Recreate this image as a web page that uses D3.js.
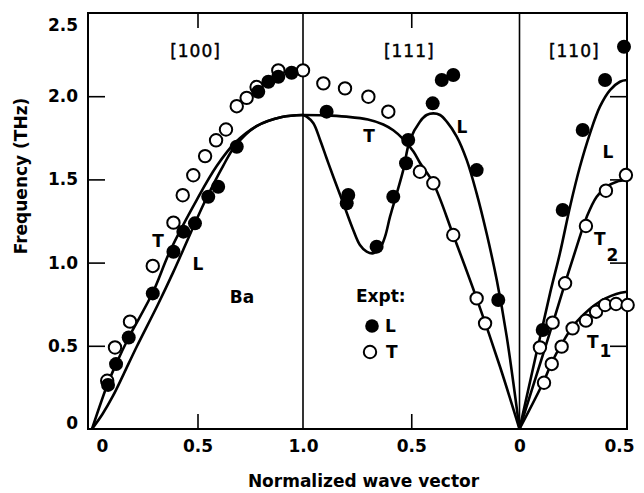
<!DOCTYPE html>
<html><head><meta charset="utf-8">
<script src="https://cdn.jsdelivr.net/npm/d3@7"></script>
<style>
html,body{margin:0;padding:0;background:#fff;}
svg text{font-family:"DejaVu Sans",sans-serif;font-weight:bold;font-size:17px;fill:#000;}
</style></head>
<body><svg id="c" width="644" height="493"></svg>
<script>
// ---------- data (q = normalized wave vector, v = frequency THz) ----------
const yTickVals = [0, 0.5, 1, 1.5, 2, 2.5];
const yTickLabels = ["0", "0.5", "1.0", "1.5", "2.0", "2.5"];
const sTickVals = [0, 0.5, 1, 1.5, 2, 2.5];
const xTickLabels = ["0", "0.5", "1.0", "0.5", "0", "0.5"];
const panelNames = ["[100]", "[111]", "[110]"];

// [100]
const curve100T = [[0,0],[0.074,0.27],[0.114,0.39],[0.174,0.55],[0.288,0.82],[0.37,1.07],[0.496,1.376],[0.591,1.58],[0.678,1.72],[0.78,1.82],[0.9,1.875],[1,1.887]];
const curve100L = [[0,0],[0.05,0.09],[0.1,0.2],[0.15,0.33],[0.21,0.49],[0.313,0.75],[0.384,0.94],[0.43,1.07],[0.536,1.37],[0.621,1.58],[0.678,1.7],[0.78,1.82],[0.9,1.875],[1,1.887]];
const open100 = [[0.072,0.29],[0.109,0.49],[0.18,0.645],[0.288,0.98],[0.386,1.24],[0.43,1.405],[0.48,1.525],[0.536,1.64],[0.588,1.735],[0.635,1.80],[0.686,1.94],[0.733,1.99],[0.78,2.055],[0.883,2.155],[1.0,2.155]];
const filled100 = [[0.076,0.265],[0.114,0.39],[0.174,0.55],[0.288,0.815],[0.386,1.065],[0.433,1.186],[0.488,1.236],[0.551,1.396],[0.598,1.456],[0.686,1.696],[0.788,2.027],[0.836,2.087],[0.883,2.117],[0.946,2.141]];

// [111]
const curve111T = [[1,1.887],[0.9,1.885],[0.8,1.877],[0.7,1.86],[0.629,1.83],[0.583,1.795],[0.537,1.742],[0.49,1.667],[0.46,1.6],[0.398,1.477],[0.306,1.166],[0.198,0.785],[0.09,0.374],[0,0]];
const curve111L = [[1,1.887],[0.983,1.877],[0.952,1.837],[0.921,1.737],[0.891,1.627],[0.86,1.516],[0.814,1.356],[0.768,1.196],[0.737,1.106],[0.706,1.066],[0.675,1.056],[0.644,1.086],[0.621,1.156],[0.598,1.276],[0.567,1.416],[0.537,1.556],[0.506,1.737],[0.46,1.847],[0.429,1.887],[0.398,1.897],[0.367,1.887],[0.336,1.847],[0.29,1.757],[0.244,1.617],[0.198,1.416],[0.152,1.176],[0.105,0.895],[0.059,0.555],[0,0]];
const open111 = [[0.906,2.077],[0.806,2.047],[0.698,1.997],[0.606,1.907],[0.46,1.546],[0.398,1.477],[0.306,1.166],[0.198,0.785],[0.159,0.635]];
const filled111 = [[0.891,1.907],[0.791,1.406],[0.798,1.356],[0.66,1.096],[0.583,1.396],[0.524,1.597],[0.514,1.737],[0.401,1.957],[0.359,2.097],[0.306,2.127],[0.198,1.556],[0.098,0.775]];

// [110]
const curve110L = [[0,0],[0.142,0.815],[0.188,1.056],[0.235,1.336],[0.281,1.576],[0.328,1.777],[0.374,1.937],[0.421,2.037],[0.467,2.087],[0.5,2.097]];
const curve110T2 = [[0,0],[0.1,0.41],[0.157,0.645],[0.212,0.876],[0.266,1.096],[0.313,1.276],[0.359,1.396],[0.406,1.456],[0.452,1.486],[0.5,1.496]];
const curve110T1 = [[0,0],[0.114,0.29],[0.15,0.4],[0.196,0.51],[0.25,0.62],[0.3,0.69],[0.35,0.745],[0.4,0.785],[0.45,0.812],[0.5,0.825]];
const filled110 = [[0.486,2.297],[0.398,2.097],[0.294,1.797],[0.201,1.316],[0.108,0.595]];
const open110 = [[0.495,1.526],[0.402,1.432],[0.309,1.22],[0.212,0.876],[0.154,0.639],[0.095,0.49],
  [0.114,0.278],[0.15,0.391],[0.196,0.495],[0.247,0.605],[0.309,0.651],[0.356,0.705],[0.398,0.745],[0.449,0.751],[0.503,0.745]];

// ---------- layout ----------
const svg = d3.select("#c");
const x = d3.scaleLinear().domain([0, 1, 2, 2.5]).range([92, 303, 519.5, 627]);
const y = d3.scaleLinear().domain([0, 2.5]).range([429, 13]);
const frameL = x(0) - 4, frameR = x(2.5), frameT = y(2.5), frameB = y(0);

// panel mapping q -> path coordinate s
const s100 = q => q, s111 = q => 2 - q, s110 = q => 2 + q;
const toXY = (f) => d => [x(f(d[0])), y(d[1])];

// frame
svg.append("rect").attr("x", frameL).attr("y", frameT)
  .attr("width", frameR - frameL).attr("height", frameB - frameT)
  .attr("fill", "none").attr("stroke", "#000").attr("stroke-width", 2);
[1, 2].forEach(s => svg.append("line").attr("x1", x(s)).attr("x2", x(s))
  .attr("y1", frameT).attr("y2", frameB).attr("stroke", "#000").attr("stroke-width", 1.6));

// axes: labels
const gx = svg.append("g").attr("transform", `translate(0,${frameB})`)
  .call(d3.axisBottom(x).tickValues(sTickVals).tickSize(0).tickPadding(11)
    .tickFormat((d, i) => xTickLabels[i]));
gx.select(".domain").remove();
gx.selectAll("text").attr("font-family", null).attr("font-size", null)
  .attr("dx", (d, i) => i === 0 ? 10 : (i === sTickVals.length - 1 ? -8 : 0));

const gy = svg.append("g").attr("transform", `translate(${frameL - 10},0)`)
  .call(d3.axisLeft(y).tickValues(yTickVals).tickSize(0).tickPadding(0)
    .tickFormat((d, i) => yTickLabels[i]));
gy.select(".domain").remove();
gy.selectAll("text").attr("font-family", null).attr("font-size", null)
  .attr("dy", (d, i) => i === 0 ? "-0.05em" : (i === yTickVals.length - 1 ? "1.05em" : "0.32em"));

// inner ticks
function ticks(axis, tr, vals, size) {
  const g = svg.append("g").attr("transform", tr)
    .call(axis.tickValues(vals).tickSize(size).tickFormat(""));
  g.select(".domain").remove();
  g.selectAll("line").attr("stroke", "#000").attr("stroke-width", 1.6);
}
ticks(d3.axisRight(y), `translate(${frameL},0)`, [0.5, 1, 1.5, 2], 17);
ticks(d3.axisLeft(y), `translate(${frameR},0)`, [0.5, 1, 1.5, 2], 17);
ticks(d3.axisTop(x), `translate(0,${frameB})`, [0.5, 1.5], 15);
ticks(d3.axisBottom(x), `translate(0,${frameT})`, [0.5, 1.5], 15);

// axis titles
svg.append("text").attr("x", (frameL + frameR) / 2 + 6).attr("y", 487)
  .attr("text-anchor", "middle").text("Normalized wave vector");
svg.append("text").attr("transform", `translate(27,176) rotate(-90)`)
  .attr("text-anchor", "middle").text("Frequency (THz)");

// panel titles
[0.5, 1.5, 2.25].forEach((s, i) => svg.append("text")
  .attr("x", x(s) + (i === 2 ? 1 : -2)).attr("y", 57).attr("text-anchor", "middle")
  .attr("letter-spacing", "1px").style("font-weight", "normal")
  .attr("stroke", "#000").attr("stroke-width", 0.45)
  .text(panelNames[i]));

// curves
const line = d3.line().curve(d3.curveCatmullRom.alpha(0.5));
const curves = [
  [curve100T, s100], [curve100L, s100],
  [curve111T, s111], [curve111L, s111],
  [curve110L, s110], [curve110T2, s110], [curve110T1, s110]
];
curves.forEach(([data, f]) => svg.append("path")
  .attr("d", line(data.map(toXY(f))))
  .attr("fill", "none").attr("stroke", "#000").attr("stroke-width", 2.6)
  .attr("stroke-linejoin", "round"));

// points
const R = 6.2;
function openPts(data, f) {
  svg.append("g").selectAll("circle").data(data).join("circle")
    .attr("cx", d => x(f(d[0]))).attr("cy", d => y(d[1])).attr("r", R)
    .attr("fill", "#fff").attr("stroke", "#000").attr("stroke-width", 2);
}
function filledPts(data, f) {
  svg.append("g").selectAll("circle").data(data).join("circle")
    .attr("cx", d => x(f(d[0]))).attr("cy", d => y(d[1])).attr("r", R + 0.8)
    .attr("fill", "#000");
}
openPts(open100, s100); openPts(open111, s111); openPts(open110, s110);
filledPts(filled100, s100); filledPts(filled111, s111); filledPts(filled110, s110);

// annotations
const ann = (t, xx, yy) => svg.append("text").attr("x", xx).attr("y", yy).attr("text-anchor", "middle").text(t);
ann("T", 158, 247); ann("L", 198, 270); ann("Ba", 242, 303);
ann("T", 369, 142); ann("L", 462, 133); ann("L", 608, 158);
const sub = (main, s, xx, yy, dy) => {
  const t = svg.append("text").attr("x", xx).attr("y", yy);
  t.append("tspan").text(main);
  t.append("tspan").attr("dy", dy).attr("dx", 1).text(s);
};
sub("T", "2", 594, 245, 16);
sub("T", "1", 587, 348, 9);

// legend
svg.append("text").attr("x", 356).attr("y", 302).text("Expt:");
svg.append("circle").attr("cx", 372).attr("cy", 326).attr("r", R + 0.6).attr("fill", "#000");
svg.append("text").attr("x", 385).attr("y", 332).text("L");
svg.append("circle").attr("cx", 370).attr("cy", 352).attr("r", R).attr("fill", "#fff").attr("stroke", "#000").attr("stroke-width", 2);
svg.append("text").attr("x", 386).attr("y", 358).text("T");
</script></body></html>
